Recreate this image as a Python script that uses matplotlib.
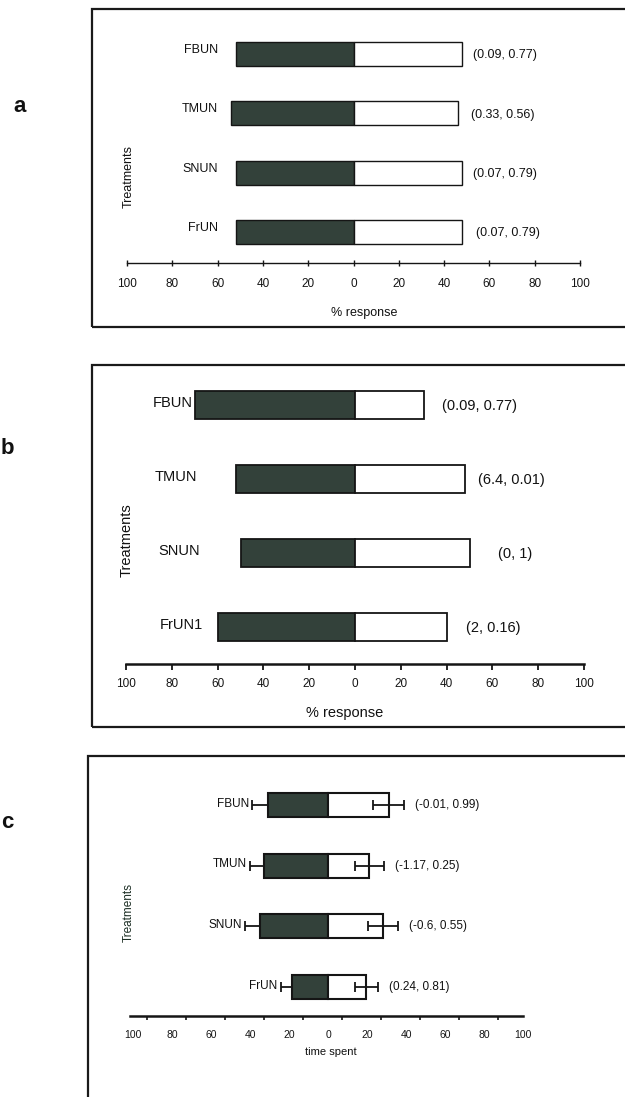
import numpy as np
import matplotlib
matplotlib.use("Agg")
import matplotlib.pyplot as plt
from matplotlib.patches import Rectangle
from matplotlib.transforms import blended_transform_factory

plt.rcParams["font.family"] = ["Liberation Sans", "DejaVu Sans"]

# ---- data -----------------------------------------------------------------
# (a) % response per treatment: left (dark) vs right (white) arm
a_treatments = ["FBUN", "TMUN", "SNUN", "FrUN"]
a_left = [52, 54, 52, 52]
a_right = [48, 46, 48, 48]
a_stats = ["(0.09, 0.77)", "(0.33, 0.56)", "(0.07, 0.79)", "(0.07, 0.79)"]

# (b) % response, second trial set
b_treatments = ["FBUN", "TMUN", "SNUN", "FrUN1"]
b_left = [70, 52, 50, 60]
b_right = [30, 48, 50, 40]
b_stats = ["(0.09, 0.77)", "(6.4, 0.01)", "(0, 1)", "(2, 0.16)"]

# (c) time spent in each arm, with error bars
c_treatments = ["FBUN", "TMUN", "SNUN", "FrUN"]
c_left = [31, 33, 35, 18.5]
c_right = [31, 21, 28, 19.5]
c_left_err = [8, 7, 7.5, 6]
c_right_err = [8, 7.5, 7.5, 6]
c_stats = ["(-0.01, 0.99)", "(-1.17, 0.25)", "(-0.6, 0.55)", "(0.24, 0.81)"]

tick_values = list(range(-100, 101, 20))
tick_labels = [str(abs(v)) for v in tick_values]

# ---- layout (pixel anchors of the hand-placed labels) -------------------------
a_name_right_px = [218, 218, 218, 218]
a_stat_left_px = [473, 471, 473, 476]
b_name_right_px = [193, 197, 200, 203]
b_stat_left_px = [442, 478, 498, 466]

# ---- styling ----------------------------------------------------------------
W, H = 625, 1097
DARK = "#33413a"
EDGE = "#151515"
TXT = "#111111"

fig = plt.figure(figsize=(W / 100, H / 100), dpi=100)
fig.patch.set_facecolor("white")


def frac(px, py):
    return px / W, 1 - py / H


def panel_box(x0, y0, x1, y1, lw=1.5):
    l, t = frac(x0, y0)
    r, b = frac(x1, y1)
    fig.patches.append(Rectangle((l, b), r - l, t - b, transform=fig.transFigure,
                                 fill=False, edgecolor="#1a1a1a", linewidth=lw,
                                 clip_on=False))


def make_axes(xlim, x_px, axis_y, row_top, row_bottom, n, spine_lw):
    step = (row_bottom - row_top) / (n - 1)
    top_px = row_top - 0.55 * step
    l, b = frac(x_px[0], axis_y)
    ax = fig.add_axes([l, b, (x_px[1] - x_px[0]) / W, (axis_y - top_px) / H])
    ax.set_xlim(*xlim)
    ax.set_ylim(-(axis_y - row_bottom) / step, n - 1 + (row_top - top_px) / step)
    for s in ("left", "top", "right"):
        ax.spines[s].set_visible(False)
    ax.spines["bottom"].set_linewidth(spine_lw)
    ax.spines["bottom"].set_color(EDGE)
    ax.set_yticks([])
    ax.patch.set_visible(False)
    return ax


def draw_bars(ax, n, left, right, h, lw):
    pos = np.arange(n)[::-1]
    ax.barh(pos, -np.asarray(left), height=h, color=DARK, edgecolor=EDGE,
            linewidth=lw, zorder=2)
    ax.barh(pos, right, height=h, color="white", edgecolor=EDGE,
            linewidth=lw, zorder=2)
    return pos


def px_text(x, y, s, **kw):
    fx, fy = frac(x, y)
    kw.setdefault("color", TXT)
    fig.text(fx, fy, s, **kw)


def row_labels(ax, pos, names, stats, name_px, stat_px, size, dy=0.04):
    tr = blended_transform_factory(fig.transFigure, ax.transData)
    for p, name, s, nx, sx in zip(pos, names, stats, name_px, stat_px):
        ax.text(nx / W, p + dy, name, transform=tr, ha="right", va="center",
                fontsize=size, color=TXT)
        ax.text(sx / W, p - 0.02, s, transform=tr, ha="left", va="center",
                fontsize=size, color=TXT)


# ---- panel a ------------------------------------------------------------------
panel_box(92, 9, 640, 327, lw=1.6)
ax = make_axes((-100, 100), (127, 580), 263, 54, 232, 4, 1.0)
pos = draw_bars(ax, 4, a_left, a_right, 0.40, 1.0)
ax.set_xticks(tick_values, tick_labels)
ax.tick_params(axis="x", direction="inout", length=5, width=1.0, pad=8,
               labelsize=8.5, colors=EDGE)
row_labels(ax, pos, a_treatments, a_stats, a_name_right_px, a_stat_left_px, 9,
           dy=0.07)
px_text(364, 313, "% response", ha="center", va="center", fontsize=9)
px_text(129, 177, "Treatments", ha="center", va="center", rotation=90, fontsize=9)

# ---- panel b ------------------------------------------------------------------
panel_box(92, 365, 640, 727, lw=1.6)
ax = make_axes((-100, 100), (126, 584), 664, 405, 627, 4, 1.8)
pos = draw_bars(ax, 4, b_left, b_right, 0.39, 1.3)
ax.set_xticks(tick_values, tick_labels)
ax.tick_params(axis="x", direction="out", length=4, width=1.3, pad=6,
               labelsize=8.5, colors=EDGE)
row_labels(ax, pos, b_treatments, b_stats, b_name_right_px, b_stat_left_px, 10.5,
           dy=0.03)
px_text(345, 713, "% response", ha="center", va="center", fontsize=10.5)
px_text(127, 540, "Treatments", ha="center", va="center", rotation=90, fontsize=10.5)

# ---- panel c ------------------------------------------------------------------
panel_box(88, 756, 640, 1110, lw=1.6)
ax = make_axes((-101.7, 100), (130, 523.3), 1016, 805, 987, 4, 1.8)
pos = draw_bars(ax, 4, c_left, c_right, 0.40, 1.5)
err_kw = dict(fmt="none", ecolor=EDGE, elinewidth=1.3, capsize=3.5, capthick=1.3)
ax.errorbar(-np.asarray(c_left), pos, xerr=c_left_err, zorder=1, **err_kw)
ax.errorbar(c_right, pos, xerr=c_right_err, zorder=3, **err_kw)
ax.set_xticks(tick_values, tick_labels)
ax.set_xticks(np.arange(-93, 88, 20), minor=True)
ax.tick_params(axis="x", which="major", length=0, pad=10, labelsize=7.5,
               colors=EDGE)
ax.tick_params(axis="x", which="minor", direction="out", length=3, width=1.2,
               colors=EDGE)
for p, name, l, e in zip(pos, c_treatments, c_left, c_left_err):
    ax.annotate(name, xy=(-(l + e), p), xytext=(-2.5, 1), textcoords="offset points",
                ha="right", va="center", fontsize=8.5, color=TXT)
for p, s, r, e in zip(pos, c_stats, c_right, c_right_err):
    ax.annotate(s, xy=(r + e, p), xytext=(8, 0), textcoords="offset points",
                ha="left", va="center", fontsize=8.5, color=TXT)
px_text(331, 1052, "time spent", ha="center", va="center", fontsize=8)
px_text(129, 912, "Treatments", ha="center", va="center", rotation=90,
        fontsize=8.5, color="#1c2e24")

# ---- panel letters ------------------------------------------------------------
px_text(20, 106, "a", ha="center", va="center", fontsize=16, fontweight="bold")
px_text(7, 448, "b", ha="center", va="center", fontsize=16, fontweight="bold")
px_text(7, 822, "c", ha="center", va="center", fontsize=16, fontweight="bold")

fig.savefig("out.png", dpi=100, facecolor="white")
